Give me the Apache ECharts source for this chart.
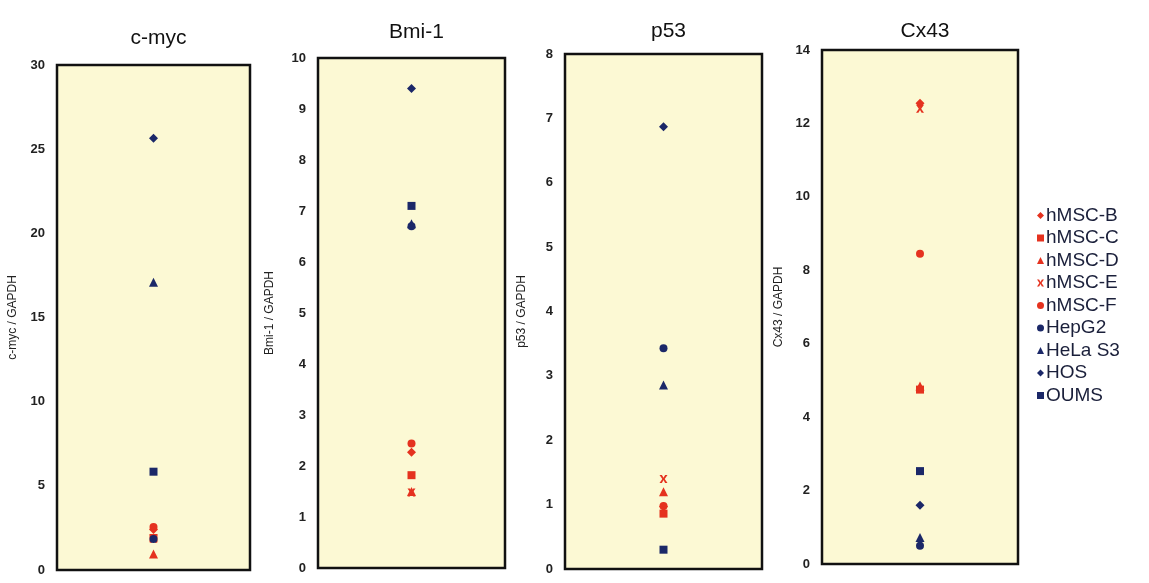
<!DOCTYPE html>
<html>
<head>
<meta charset="utf-8">
<script src="https://cdn.jsdelivr.net/npm/echarts@6/dist/echarts.min.js"></script>
<style>
html,body{margin:0;padding:0;background:#fff;}
#main{width:1149px;height:583px;}
</style>
</head>
<body>
<div id="main"></div>
<script>
// genes (one panel each) and y axis scales
var genes = ['c-myc', 'Bmi-1', 'p53', 'Cx43'];
var yMax = [30, 10, 8, 14];
var yStep = [5, 1, 1, 2];

// cell lines, values per gene (c-myc, Bmi-1, p53, Cx43) relative to GAPDH
var cellLines = ['hMSC-B', 'hMSC-C', 'hMSC-D', 'hMSC-E', 'hMSC-F', 'HepG2', 'HeLa S3', 'HOS', 'OUMS'];
var hMSC_B = [2.4, 2.27, 0.97, 12.55];
var hMSC_C = [1.9, 1.82, 0.86, 4.75];
var hMSC_D = [0.95, 1.5, 1.2, 4.85];
var hMSC_E = [1.85, 1.48, 1.4, 12.4];
var hMSC_F = [2.55, 2.44, 0.98, 8.45];
var HepG2 = [1.84, 6.7, 3.43, 0.5];
var HeLaS3 = [17.1, 6.75, 2.86, 0.72];
var HOS = [25.65, 9.4, 6.87, 1.6];
var OUMS = [5.84, 7.1, 0.3, 2.53];
var values = [hMSC_B, hMSC_C, hMSC_D, hMSC_E, hMSC_F, HepG2, HeLaS3, HOS, OUMS];

var red = '#e5321f';
var navy = '#1b2868';
var xShape = 'path://M0,0 L3,0 L5,3.5 L7,0 L10,0 L6.5,5 L10,10 L7,10 L5,6.5 L3,10 L0,10 L3.5,5 Z';
var symbols = ['diamond', 'rect', 'triangle', xShape, 'circle', 'circle', 'triangle', 'diamond', 'rect'];
var colors = [red, red, red, red, red, navy, navy, navy, navy];
var sizes = [9, 8, 9, 8, 8, 8, 9, 9, 8];

var font = '"Liberation Sans", Arial, sans-serif';

// plot boxes
var boxes = [
    {left: 57, top: 65, width: 193, height: 505},
    {left: 318, top: 58, width: 187, height: 510},
    {left: 565, top: 54, width: 197, height: 515},
    {left: 822, top: 50, width: 196, height: 514}
];
var titleTops = [23, 17, 16, 16];
var nameGaps = [38, 42, 37, 37];

var grids = [], xAxes = [], yAxes = [], titles = [], series = [];
for (var g = 0; g < genes.length; g++) {
    grids.push({
        left: boxes[g].left, top: boxes[g].top, width: boxes[g].width, height: boxes[g].height,
        show: true, backgroundColor: '#fcf9d4', borderColor: '#111', borderWidth: 2.5
    });
    xAxes.push({gridIndex: g, type: 'value', min: 0, max: 2, show: false});
    yAxes.push({
        gridIndex: g, type: 'value', min: 0, max: yMax[g], interval: yStep[g],
        name: genes[g] + ' / GAPDH', nameLocation: 'middle', nameGap: nameGaps[g],
        nameTextStyle: {fontFamily: font, fontSize: 12, color: '#222'},
        axisLine: {show: false}, axisTick: {show: false}, splitLine: {show: false},
        axisLabel: {margin: 12, fontFamily: font, fontSize: 13, fontWeight: 'bold', color: '#222'}
    });
    titles.push({
        text: genes[g], left: boxes[g].left + boxes[g].width / 2, top: titleTops[g], textAlign: 'center',
        textStyle: {fontFamily: font, fontSize: 21, fontWeight: 'normal', color: '#111'}
    });
    for (var c = 0; c < cellLines.length; c++) {
        series.push({
            name: cellLines[c], type: 'scatter', xAxisIndex: g, yAxisIndex: g,
            symbol: symbols[c], symbolSize: sizes[c],
            itemStyle: {color: colors[c], opacity: 1},
            data: [[1, values[c][g]]]
        });
    }
}

var chart = echarts.init(document.getElementById('main'));
chart.setOption({
    animation: false,
    backgroundColor: '#fff',
    title: titles,
    grid: grids,
    xAxis: xAxes,
    yAxis: yAxes,
    legend: {
        data: cellLines,
        orient: 'vertical',
        left: 1032, top: 201,
        itemWidth: 7, itemHeight: 7, itemGap: 3.5,
        textStyle: {fontFamily: font, fontSize: 19, color: '#1a1f3a', padding: [0, 0, 0, -3]},
        selectedMode: false
    },
    series: series
});
</script>
</body>
</html>
